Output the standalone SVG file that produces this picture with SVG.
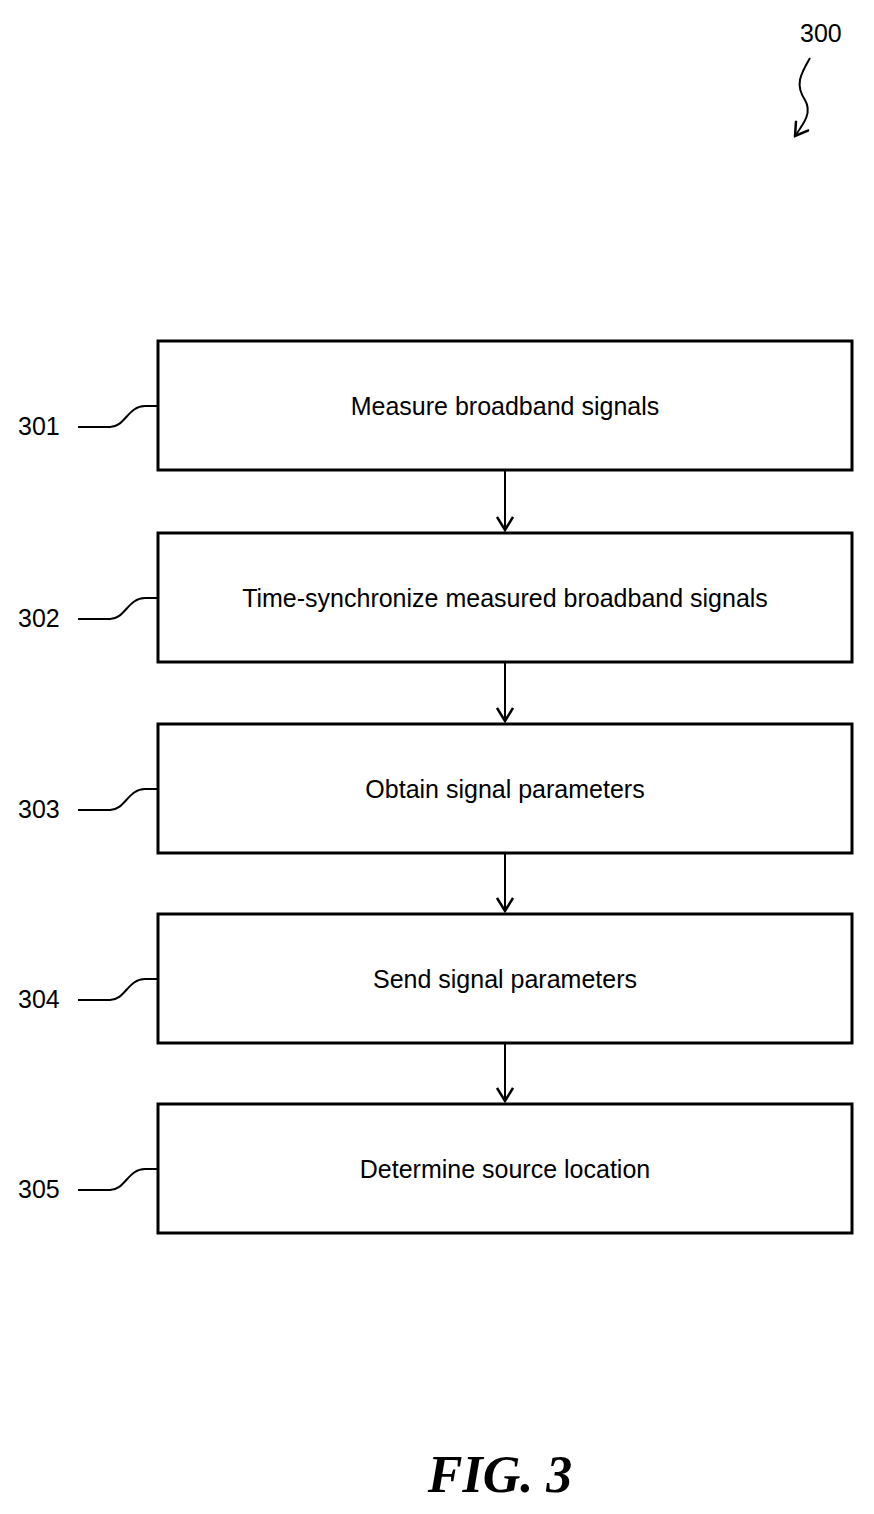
<svg xmlns="http://www.w3.org/2000/svg" width="874" height="1514" viewBox="0 0 874 1514">
<defs>
<style>
.box{fill:#fff;stroke:#000;stroke-width:3}
.t{font-family:"Liberation Sans",Arial,sans-serif;font-size:25px;fill:#000;text-anchor:middle}
.n{font-family:"Liberation Sans",Arial,sans-serif;font-size:25px;fill:#000}
.ln{fill:none;stroke:#000;stroke-width:2}
</style>
<marker id="ah" markerWidth="16" markerHeight="18" refX="14" refY="9" orient="auto" markerUnits="userSpaceOnUse">
<path d="M1,1 L14,9 L1,17" fill="none" stroke="#000" stroke-width="2.5"/>
</marker>
</defs>
<rect width="874" height="1514" fill="#fff"/>
<g id="label300">
<text class="n" x="800" y="42">300</text>
<path class="ln" d="M810,58 C800,75 795,85 805,100 C812,112 805,122 795,136" marker-end="url(#ah)"/>
</g>
<g id="connectors">
<line class="ln" x1="505" y1="471" x2="505" y2="530" marker-end="url(#ah)"/>
<line class="ln" x1="505" y1="663" x2="505" y2="721" marker-end="url(#ah)"/>
<line class="ln" x1="505" y1="854" x2="505" y2="911" marker-end="url(#ah)"/>
<line class="ln" x1="505" y1="1044" x2="505" y2="1101" marker-end="url(#ah)"/>
</g>
<g id="n301"><rect class="box" x="158" y="341" width="694" height="129"/><text class="t" x="505" y="415">Measure broadband signals</text><text class="n" x="18" y="435">301</text><path class="ln" d="M78,427 L110,427 C125,427 128,406 145,406 L158,406"/></g>
<g id="n302"><rect class="box" x="158" y="533" width="694" height="129"/><text class="t" x="505" y="607">Time-synchronize measured broadband signals</text><text class="n" x="18" y="627">302</text><path class="ln" d="M78,619 L110,619 C125,619 128,598 145,598 L158,598"/></g>
<g id="n303"><rect class="box" x="158" y="724" width="694" height="129"/><text class="t" x="505" y="798">Obtain signal parameters</text><text class="n" x="18" y="818">303</text><path class="ln" d="M78,810 L110,810 C125,810 128,789 145,789 L158,789"/></g>
<g id="n304"><rect class="box" x="158" y="914" width="694" height="129"/><text class="t" x="505" y="988">Send signal parameters</text><text class="n" x="18" y="1008">304</text><path class="ln" d="M78,1000 L110,1000 C125,1000 128,979 145,979 L158,979"/></g>
<g id="n305"><rect class="box" x="158" y="1104" width="694" height="129"/><text class="t" x="505" y="1178">Determine source location</text><text class="n" x="18" y="1198">305</text><path class="ln" d="M78,1190 L110,1190 C125,1190 128,1169 145,1169 L158,1169"/></g>
<text x="500" y="1492" font-family="'Liberation Serif',serif" font-size="52" font-style="italic" font-weight="bold" text-anchor="middle">FIG. 3</text>
</svg>
